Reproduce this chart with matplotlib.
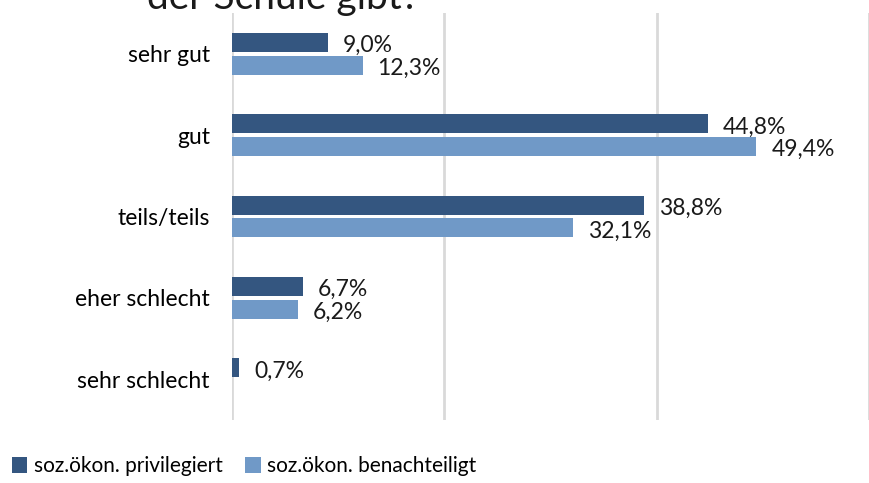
import matplotlib.pyplot as plt
import numpy as np

categories = ["sehr gut", "gut", "teils/teils", "eher schlecht", "sehr schlecht"]
privilegiert = [9.0, 44.8, 38.8, 6.7, 0.7]
benachteiligt = [12.3, 49.4, 32.1, 6.2, None]
series_names = ["soz.ökon. privilegiert", "soz.ökon. benachteiligt"]
colors = ["#345680", "#7099c7"]

plt.rcParams['font.family'] = ['Lato', 'DejaVu Sans']

fig = plt.figure(figsize=(8.69, 4.83), dpi=100)
ax = fig.add_axes([232 / 869, 1 - 420 / 483, 637 / 869, 407 / 483])

y = np.arange(len(categories))
h = 0.235
off = 0.14

for vals, name, col, d in [(privilegiert, series_names[0], colors[0], -off),
                           (benachteiligt, series_names[1], colors[1], off)]:
    ys = [yy + d for yy, v in zip(y, vals) if v is not None]
    vs = [v for v in vals if v is not None]
    ax.barh(ys, vs, height=h, color=col, label=name, zorder=3)
    for yy, v in zip(ys, vs):
        ax.text(v + 1.4, yy + 0.04, f"{v:.1f}%".replace(".", ","),
                va="center", ha="left", fontsize=16.5, color="#1a1a1a")

ax.set_xlim(0, 60)
ax.set_ylim(4.5, -0.5)
ax.set_xticks([0, 20, 40, 60])
ax.xaxis.grid(True, color="#d9d9d9", linewidth=2, zorder=0)
ax.tick_params(axis="x", length=0, labelbottom=False)
ax.tick_params(axis="y", length=0, pad=16, labelsize=16.5)
ax.set_yticks(y)
ax.set_yticklabels(categories)
for s in ax.spines.values():
    s.set_visible(False)

fig.text(147 / 869, 1 - 9 / 483, "der Schule gibt?", fontsize=28, ha="left",
         va="baseline", color="#1a1a1a")

fig.legend(loc="lower left", bbox_to_anchor=(-0.008, -0.025), ncol=2, frameon=False,
           fontsize=15, handlelength=0.75, handleheight=0.75, handletextpad=0.3,
           columnspacing=1.1)

fig.savefig("out.png", dpi=100)
